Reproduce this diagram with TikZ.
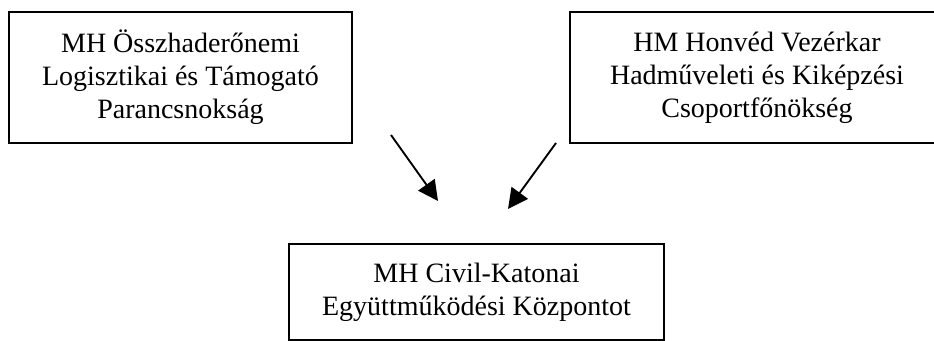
\documentclass[tikz,border=0pt]{standalone}
\usepackage{fontspec}
\setmainfont{Liberation Serif}
\usetikzlibrary{arrows.meta}
\begin{document}
\begin{tikzpicture}[x=0.75pt,y=-0.75pt,
  orgbox/.style={draw=black,line width=1.5pt,inner sep=0pt,align=center,
    font=\fontsize{21}{24.75}\selectfont},
  arr/.style={line width=1.4pt,-{Triangle[length=15pt,width=15pt]}}]
\useasboundingbox (0,0) rectangle (934,340);
\clip (0,0) rectangle (934,340);
\node[orgbox,minimum width=257.25pt,minimum height=98.25pt] (lo) at (180.5,77.5)
  {MH Összhaderőnemi\\Logisztikai és Támogató\\Parancsnokság};
\node[orgbox,minimum width=280.5pt,minimum height=98.25pt] (hm) at (757,77.5)
  {HM Honvéd Vezérkar\\Hadműveleti és Kiképzési\\Csoportfőnökség};
\node[orgbox,minimum width=281.25pt,minimum height=72pt] (ck) at (476.5,292)
  {MH Civil-Katonai\\Együttműködési Központot};
\coordinate (a1s) at (391,135);
\coordinate (a1e) at (438,201);
\coordinate (a2s) at (556,143);
\coordinate (a2e) at (508,209);
\draw[arr] (a1s) -- (a1e);
\draw[arr] (a2s) -- (a2e);
\end{tikzpicture}
\end{document}
